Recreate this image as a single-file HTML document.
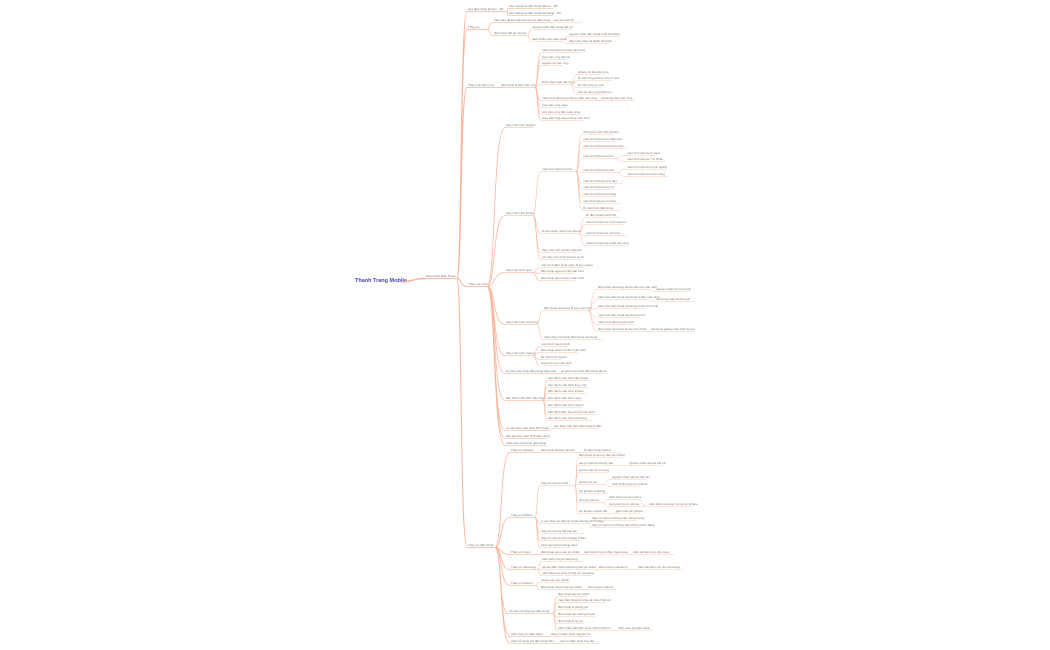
<!DOCTYPE html>
<html><head><meta charset="utf-8">
<style>
html,body{margin:0;padding:0;background:#fff;width:1050px;height:650px;overflow:hidden}
svg{display:block}
text{font-family:"Liberation Sans","Noto Sans CJK SC",sans-serif;font-size:3px;fill:#777}
</style></head>
<body>
<svg id="s" width="1050" height="650" viewBox="0 0 1050 650" xmlns="http://www.w3.org/2000/svg">
<text x="355" y="282" style="font-size:5.5px;font-weight:bold;fill:#4646b0">Thanh Trang Mobile</text>
</svg>
<script>
var T=[425,277,32,"Sửa Chữa Điện Thoại",[
 [467,10,40,"sửa điện thoại iphone - 3D",[[508,7,45,"sửa màng loa điện thoại iphone - 3D",[]],[508,14,45,"sửa màng loa điện thoại samsung - 3D",[]]]],
 [467,28,20,"Thay pin",[[493,21,55,"cách làm để kéo dài tuổi thọ pin điện thoại",[[552,21,30,"mẹo kéo dài pin",[]]]],[493,34,35,"điện thoại hết pin nhanh",[[531,28,40,"nguyên nhân điện thoại hết pin",[]],[531,40,30,"cách khắc phục điện thoại",[[568,35,52,"nguyên nhân điện thoại bị lỗi hệ thống",[]],[568,42,42,"thay màn hình và nhiều linh kiện",[]]]]]]]],
 [467,86,35,"Thay kính cảm ứng",[[500,86,35,"điện thoại bị loạn cảm ứng",[[541,51,40,"màn hình iphone bị liệt cảm ứng",[]],[541,58,25,"loạn cảm ứng iphone",[]],[541,64,22,"nguyên lỗi cảm ứng",[]],[541,83,30,"khắc phục loạn cảm ứng",[[577,73,28,"iphone 12 liệt cảm ứng",[]],[577,79,35,"lỗi cảm ứng iphone 12 pro max",[]],[577,86,25,"lỗi cảm ứng xs max",[]],[577,93,30,"sửa lỗi cảm ứng iphone x",[]]]],[541,99,55,"màn hình samsung không nhận cảm ứng",[[600,99,35,"samsung loạn cảm ứng",[]]]],[541,106,25,"loạn cảm ứng oppo",[]],[541,113,40,"sửa cảm ứng bấm loạn nhảy",[]],[541,119,42,"loạn cảm ứng xiaomi thay màn hình",[]]]]]],
 [467,285,20,"Thay màn hình",[
  [505,126,28,"thay màn hình huawei",[]],
  [505,214,28,"thay màn hình iphone",[[541,170,35,"màn hình iphone bị lỗi",[[582,133,32,"những lỗi màn hình iphone",[]],[582,140,35,"màn hình iphone bị chấm đen",[]],[582,147,45,"màn hình iphone bị loang màu",[]],[582,157,32,"màn hình iphone bị ám",[[626,154,30,"màn hình iphone bị xanh",[]],[626,160,40,"màn hình iphone 7 bị nhiễu",[]]]],[582,171,35,"màn hình iphone bị sọc",[[626,168,40,"màn hình iphone bị sọc ngang",[]],[626,175,42,"màn hình iphone bị ám vàng",[]]]],[582,182,40,"màn hình iphone 6 bị đen",[]],[582,188,32,"màn hình iphone bị mờ",[]],[582,195,35,"màn hình iphone bị trắng",[]],[582,202,38,"màn hình iphone bị nhòe",[]],[582,209,40,"lỗi màn hình điện thoại",[]]]],[541,232,38,"lỗi liên quan màn hình iphone",[[585,216,35,"lỗi điện thoại màn hình",[]],[585,223,40,"màn hình iphone bị lỗi xanh lá",[]],[585,234,42,"màn hình iphone 13 bị lỗi",[]],[585,244,42,"màn hình iphone bị liệt cảm ứng",[]]]],[541,251,36,"thay màn hình iphone bao lâu",[]],[541,258,40,"nơi thay màn hình iphone uy tín",[]]]],
  [505,271,28,"thay màn hình oppo",[[540,266,45,"màn hình điện thoại oppo bị sọc ngang",[]],[540,272,35,"điện thoại oppo bị mất màn hình",[]],[540,279,35,"điện thoại oppo bị đen màn hình",[]]]],
  [505,323,32,"thay màn hình samsung",[[543,309,45,"điện thoại samsung bị sọc màn hình",[[597,288,50,"điện thoại samsung không hiển thị màn hình",[[655,290,35,"nguyên nhân hư màn hình",[]]]],[597,298,50,"cách sửa điện thoại samsung bị đen màn hình",[[655,300,40,"samsung màn hình bị sọc",[]]]],[597,307,48,"cách sửa điện thoại samsung bị đơ màn hình",[]],[597,316,45,"màn hình điện thoại samsung bị hư",[]],[597,323,38,"màn hình samsung bị xanh",[]],[597,330,45,"điện thoại samsung bị sọc màn hình",[[650,330,45,"samsung galaxy màn hình bị sọc",[]]]]]],[543,338,60,"cách thay màn hình điện thoại samsung",[]]]],
  [505,354,28,"thay màn hình xiaomi",[[540,345,28,"màn hình xiaomi bị lỗi",[]],[540,351,38,"điện thoại xiaomi bị đen màn hình",[]],[540,358,22,"lỗi màn hình xiaomi",[]],[540,364,30,"xiaomi bị sọc màn hình",[]]]],
  [505,372,50,"ép kính màn hình điện thoại thay kính",[[560,372,45,"ép kính màn hình điện thoại giá rẻ",[]]]],
  [505,399,38,"bảo hành màn hình điện thoại",[[547,379,42,"bảo hành màn hình điện thoại",[]],[547,386,42,"bảo hành màn hình thay mới",[]],[547,392,40,"bảo hành màn hình iphone",[]],[547,399,35,"bảo hành màn hình oppo",[]],[547,406,35,"bảo hành màn hình xiaomi",[]],[547,413,50,"bảo hành điện thoại bị lỗi màn hình",[]],[547,419,45,"bảo hành màn hình samsung",[]]]],
  [505,429,45,"có nên thay màn hình điện thoại",[[553,427,45,"nên thay màn hình điện thoại ở đâu",[]]]],
  [505,437,42,"báo giá thay màn hình điện thoại",[]],
  [505,444,42,"cách thay màn hình điện thoại",[]]]],
 [467,546,28,"Thay pin điện thoại",[
  [510,451,25,"Thay pin Huawei",[[540,451,38,"điện thoại huawei sạc pin",[[583,451,38,"lỗi điện thoại huawei",[]]]]]],
  [510,516,25,"Thay pin iPhone",[[540,484,35,"thay pin iphone bị lỗi",[[578,456,45,"điện thoại iphone bị hao pin nhanh",[]],[578,464,45,"sạc pin iphone không vào",[[628,464,35,"nguyên nhân iphone hết pin",[]]]],[578,471,30,"iphone sạc pin bị nóng",[]],[578,483,25,"iphone tụt pin",[[611,478,35,"nguyên nhân iphone hao pin",[]],[611,485,30,"cách khắc phục pin iphone",[]]]],[578,492,30,"pin iphone bị phồng",[]],[578,501,25,"chai pin iphone",[[608,498,30,"cách kiểm tra pin iphone",[[648,505,45,"cách kiểm tra dung lượng pin iphone",[]]]],[608,505,38,"dung lượng pin iphone",[]]]],[578,512,35,"pin iphone nhanh hết",[[615,512,25,"giảm hao pin iphone",[]]]]]],[540,522,48,"vì sao thay pin iphone bị báo không chính hãng",[[591,519,45,"thay pin iphone không hiện dung lượng",[]],[591,526,50,"thay pin iphone bị thông báo không chính hãng",[]]]],[540,532,45,"thay pin iphone hết bao lâu",[]],[540,539,40,"thay pin iphone chính hãng ở đâu",[]],[540,546,30,"cách sạc iphone đúng cách",[]]]],
  [510,553,22,"Thay pin Oppo",[[540,553,40,"điện thoại oppo sạc pin chậm",[[583,553,45,"cách kiểm tra pin điện thoại oppo",[[632,553,42,"cách tiết kiệm pin cho oppo",[]]]]]]]],
  [510,568,28,"Thay pin Samsung",[[541,560,42,"cách kiểm tra pin samsung",[]],[541,568,52,"tại sao điện thoại samsung sạc pin chậm",[[598,568,30,"kiểm tra pin samsung",[[637,568,45,"cách tiết kiệm pin cho samsung",[]]]]]],[541,574,50,"cách kiểm tra dung lượng pin samsung",[]]]],
  [510,584,25,"Thay pin Xiaomi",[[540,581,30,"xiaomi sạc pin nhanh",[]],[540,588,42,"điện thoại xiaomi sạc pin chậm",[[587,588,30,"kiểm tra pin xiaomi",[]]]]]],
  [508,612,45,"Lỗi sạc và cổng sạc điện thoại",[[557,595,30,"điện thoại sạc pin chậm",[]],[557,601,48,"máy điện thoại bị nóng và nhanh hết pin",[]],[557,608,30,"điện thoại bị phồng pin",[]],[557,615,38,"điện thoại sạc không lên pin",[]],[557,622,28,"điện thoại bị tụt pin",[]],[557,629,55,"cách nhận biết điện thoại nhanh hết pin",[[617,629,35,"cách mua pin điện thoại",[]]]]]],
  [510,635,35,"cách thay pin điện thoại",[[550,635,40,"thay pin điện thoại nguyên zin",[]]]],
  [510,642,45,"cách sử dụng pin điện thoại bền",[[559,642,40,"sạc pin điện thoại bao lâu",[]]]]]]
]];
var s=document.getElementById('s'),NS="http://www.w3.org/2000/svg";
function el(t,a,txt){var e=document.createElementNS(NS,t);for(var k in a)e.setAttribute(k,a[k]);if(txt)e.textContent=txt;s.appendChild(e);return e;}
function draw(n,px,py,depth){
 var x=n[0],y=n[1],w=n[2];
 var sw=Math.max(0.45,1.3-depth*0.25);
 if(px!==null){var mx=(px+x)/2;el('path',{d:'M'+px+','+py+' C'+mx+','+py+' '+(px+(x-px)*0.3)+','+(y+1.5)+' '+x+','+(y+1.5),fill:'none',stroke:'#f9b59a','stroke-width':sw});}
 el('line',{x1:x,y1:y+1.5,x2:x+w,y2:y+1.5,stroke:'#fac3ae','stroke-width':sw});
 el('text',{x:x+1,y:y},n[3]);
 for(var i=0;i<n[4].length;i++)draw(n[4][i],x+w,y+1.5,depth+1);
}
el('path',{d:'M402,282 C412,282 412,278.5 425,278.5',fill:'none',stroke:'#f9b59a','stroke-width':1.6});
draw(T,null,null,0);
</script>
</body></html>
